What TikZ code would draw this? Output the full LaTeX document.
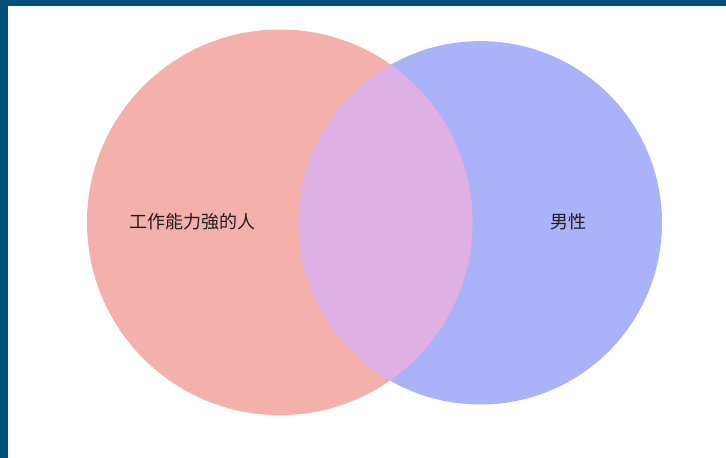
\documentclass[tikz,border=0pt]{standalone}
\usepackage{fontspec}
\newfontfamily\cjk{Noto Sans CJK TC}
\definecolor{barblue}{RGB}{0,80,122}
\definecolor{leftc}{RGB}{244,176,170}
\definecolor{rightc}{RGB}{170,178,250}
\definecolor{midc}{RGB}{222,176,228}
\definecolor{txt}{RGB}{34,30,30}
\tikzset{lbl/.style={font=\cjk\fontsize{18}{20}\selectfont, text=txt, inner sep=0pt}}
\begin{document}
\begin{tikzpicture}[x=1pt,y=-1pt]
\useasboundingbox (0,0) rectangle (726,458);
\fill[white] (0,0) rectangle (726,458);
\fill[barblue] (0,0) rectangle (726,6);
\fill[barblue] (0,0) rectangle (8,458);
\coordinate (cl) at (279.8,222.3);
\coordinate (cr) at (480.3,222.8);
\fill[leftc] (cl) circle[radius=192.8];
\fill[rightc] (cr) circle[radius=181.7];
\begin{scope}
\clip (cl) circle[radius=192.8];
\fill[midc] (cr) circle[radius=181.7];
\end{scope}
\node[lbl] (a) at (192,222) {工作能力強的人};
\node[lbl] (b) at (568,222) {男性};
\end{tikzpicture}
\end{document}
